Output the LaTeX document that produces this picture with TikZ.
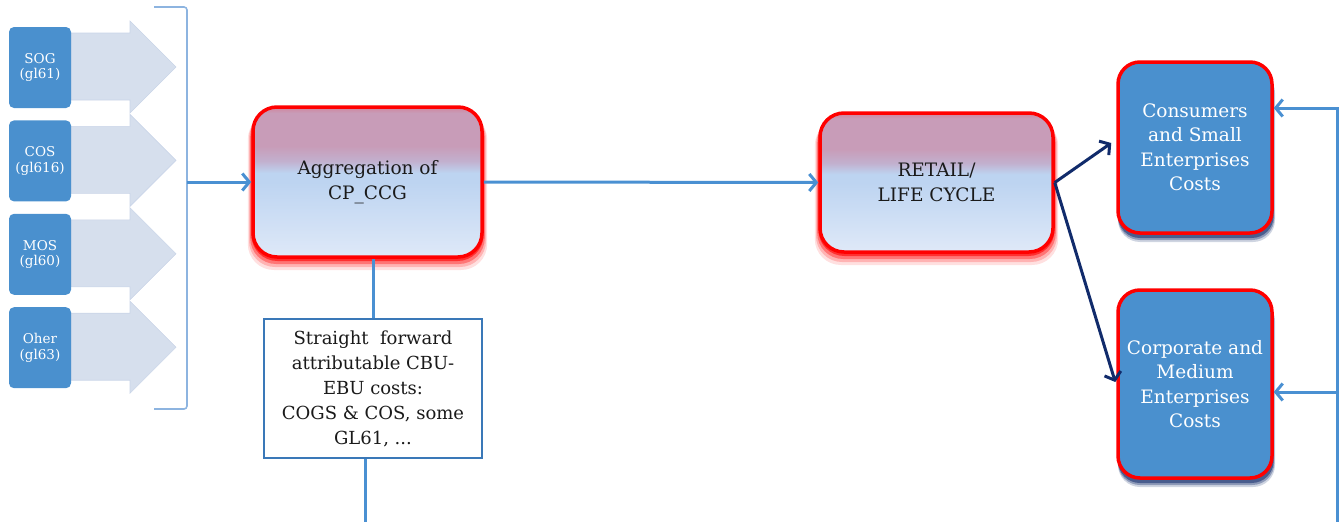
\documentclass[tikz,border=0pt]{standalone}
\usepackage{fontspec}
\setmainfont{DejaVu Serif}
\usetikzlibrary{arrows.meta,calc}
\definecolor{boxblue}{HTML}{4A90CE}
\definecolor{chev}{HTML}{D6DFED}
\definecolor{chevline}{HTML}{CAD5E8}
\definecolor{brack}{HTML}{8DB4E0}
\definecolor{linkblue}{HTML}{4A90D2}
\definecolor{navy}{HTML}{112B6B}
\definecolor{sfborder}{HTML}{3A78B8}
\definecolor{gtop}{HTML}{C89CB8}
\definecolor{gmid}{HTML}{C2B0CE}
\definecolor{gblue}{HTML}{BDD4F1}
\definecolor{gbot}{HTML}{DFE9F8}
\definecolor{txt}{HTML}{1A1A1A}
\pgfdeclareverticalshading{redbox}{100bp}{color(0bp)=(gbot); color(25bp)=(gbot); color(50bp)=(gblue); color(53bp)=(gblue); color(57bp)=(gmid); color(62bp)=(gtop); color(73bp)=(gtop); color(75bp)=(gtop!85!red); color(100bp)=(gtop!85!red)}
\tikzset{
  lbox/.style={fill=boxblue, rounded corners=5pt, minimum width=62pt, minimum height=81pt,
    text=white, align=center, font=\fontsize{13.5}{15.5}\selectfont, inner sep=0pt},
  chevron/.style={fill=chev, draw=chevline, line width=0.6pt},
  redbox/.style={shading=redbox, draw=red, line width=3.5pt, rounded corners=24pt,
    align=center, text=txt, font=\fontsize{18.5}{24.5}\selectfont, inner sep=0pt},
  costbox/.style={fill=boxblue, draw=red, line width=3.5pt, rounded corners=22pt,
    align=center, text=white, font=\fontsize{18.5}{24.5}\selectfont, inner sep=0pt,
    minimum width=154pt},
  sfbox/.style={fill=white, draw=sfborder, line width=1.5pt, align=center, text=txt,
    font=\fontsize{18}{25}\selectfont, inner sep=0pt, minimum width=218pt, minimum height=139pt},
  link/.style={draw=linkblue, line width=3pt},
  linkarrow/.style={link, -{Straight Barb[length=7pt,width=17pt,line width=3pt]}},
  navyarrow/.style={draw=navy, line width=3pt, -{Straight Barb[length=7pt,width=17pt,line width=3pt]}},
}
\begin{document}
\begin{tikzpicture}[x=1pt,y=-1pt]
\useasboundingbox (0,0) rectangle (1344,522);
% left chevrons
\foreach \k in {0,1,2,3}{
  \pgfmathsetmacro{\o}{93.4*\k}
  \draw[chevron] (71,33+\o) -- (130,33+\o) -- (130,21+\o) -- (176,67+\o) -- (130,113+\o) -- (130,100+\o) -- (71,100+\o) -- cycle;
}
\node[lbox] (sog) at (40,67.5) {SOG\\(gl61)};
\node[lbox] (cos) at (40,160.9) {COS\\(gl616)};
\node[lbox] (mos) at (40,254.3) {MOS\\(gl60)};
\node[lbox] (oher) at (40,347.7) {Oher\\(gl63)};
% bracket
\draw[brack, line width=1.6pt, rounded corners=3pt] (154,7) -- (187,7) -- (187,409) -- (154,409);
\coordinate (br) at (187,182);
% glows
\foreach \d/\op in {13/0.12,10/0.2,7/0.35,4/0.6}{
  \fill[red, opacity=\op, rounded corners=26pt] (253-\d/2.5,107+\d/2) rectangle (482+\d/2.5,257+\d);
  \fill[red, opacity=\op, rounded corners=26pt] (820-\d/2.5,113+\d/2) rectangle (1053+\d/2.5,252+\d);
}
\foreach \d/\op in {9/0.2,7/0.35,5/0.55}{
  \fill[navy, opacity=\op, rounded corners=22pt] (1118,62+\d) rectangle (1272+\d/3,233+\d);
  \fill[navy, opacity=\op, rounded corners=22pt] (1118,290+\d) rectangle (1272+\d/3,478+\d);
}
\node[redbox, minimum width=229pt, minimum height=150pt] (agg) at (367.5,182) {Aggregation of\\CP\_CCG};
\node[redbox, minimum width=233pt, minimum height=139pt] (retail) at (936.5,182.5) {RETAIL/\\LIFE CYCLE};
\node[costbox, minimum height=171pt] (cons) at (1195,147.5) {Consumers\\and Small\\Enterprises\\Costs};
\node[costbox, minimum height=188pt, text depth=0pt] (corp) at (1195,384) {Corporate and\\Medium\\Enterprises\\Costs};
\node[sfbox] (sf) at (373,388.5) {Straight\ \ forward\\attributable CBU-\\EBU costs:\\COGS \& COS, some\\GL61, ...};
% connectors
\draw[linkarrow] (br) -- (agg.west);
\draw[linkarrow] (agg.east) -- (retail.west);
\draw[link] (sf.north) -- (sf.north |- agg.south);
\coordinate (sfb) at (365,522);
\draw[link] ([xshift=-8pt]sf.south) -- (sfb);
\draw[navyarrow] (retail.east) -- ([xshift=-5pt,yshift=4.5pt]cons.west);
\draw[navyarrow] (retail.east) -- ([xshift=-1pt,yshift=2pt]corp.west);
\coordinate (rb) at (1337,522);
\coordinate (rt1) at (1337,108);
\coordinate (rt2) at (1337,392);
\draw[linkarrow] (rb) -- (rt1) -- (cons.east |- rt1);
\draw[linkarrow] (rt2) -- (corp.east |- rt2);
\end{tikzpicture}
\end{document}
